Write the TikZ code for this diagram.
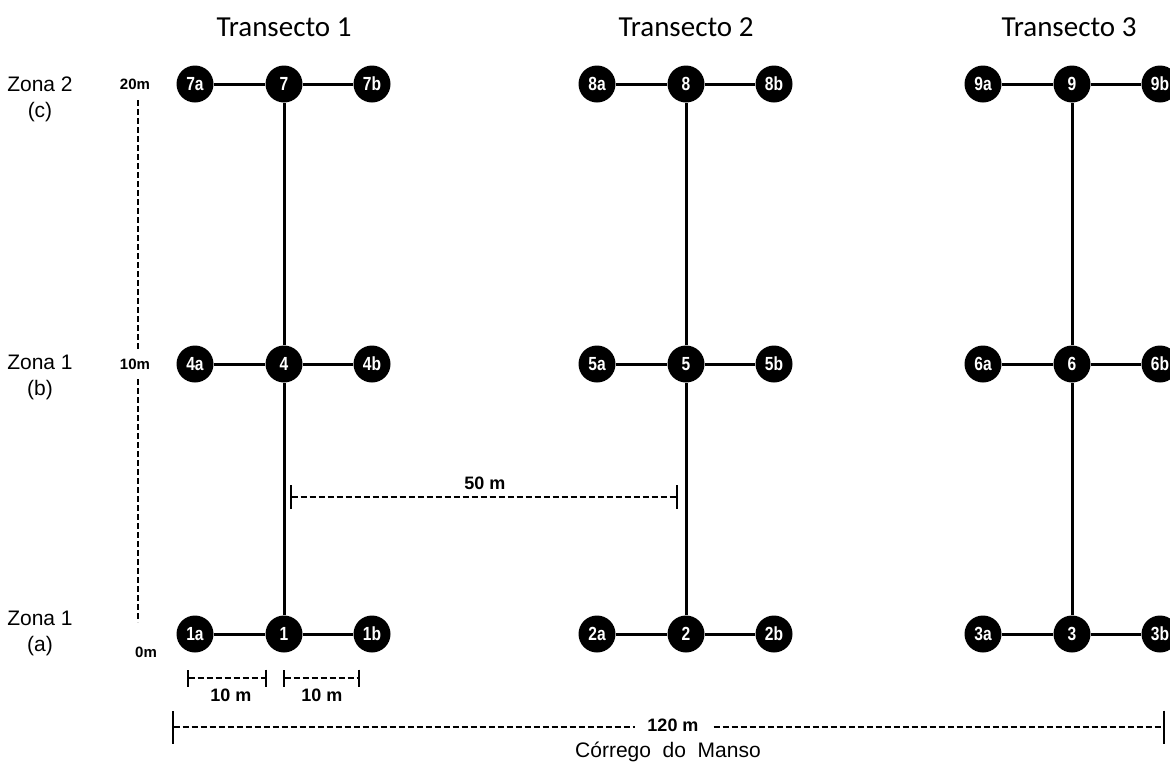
\documentclass[tikz,border=0pt]{standalone}
\usepackage{fontspec}
\usepackage{graphicx}
\setmainfont{Liberation Sans}
\newfontfamily\titlefont{Carlito}
\usetikzlibrary{arrows.meta,positioning}
\newcommand{\narrow}[1]{\scalebox{0.82}[1]{#1}}
\tikzset{
  every node/.style={text=black},
  spot/.style={circle,fill=black,minimum size=37pt,inner sep=0,text=white,font=\bfseries\fontsize{19}{19}\selectfont},
  link/.style={line width=3pt},
  dim/.style={dashed,dash pattern=on 6pt off 3pt,line width=1.6pt},
  tick/.style={{Bar[width=#1,line width=2pt]}-{Bar[width=#1,line width=2pt]}},
  dimlabel/.style={font=\bfseries\fontsize{18}{20}\selectfont,inner sep=1pt},
  zone/.style={font=\fontsize{21}{26}\selectfont,align=center},
  height/.style={font=\bfseries\fontsize{15}{16}\selectfont,fill=white,inner sep=2pt}
}
\begin{document}
\begin{tikzpicture}[x=1pt,y=-1pt]
  \path[use as bounding box] (0,0) rectangle (1170,766);

  % transect titles
  \foreach \t/\cx in {1/284,2/686,3/1069}
    \node[font=\titlefont\fontsize{29}{32}\selectfont] (title\t) at (\cx,27) {Transecto \t};

  % sampling points
  \foreach \t/\cx in {1/284,2/686,3/1072} {
    \foreach \r/\cy in {0/634,1/364,2/84} {
      \pgfmathtruncatemacro\k{\t+3*\r}
      \node[spot] (s\k) at (\cx,\cy) {\narrow{\k}};
      \node[spot] (s\k a) at (\cx-89,\cy) {\narrow{\k a}};
      \node[spot] (s\k b) at (\cx+88,\cy) {\narrow{\k b}};
      \draw[link] (s\k a) -- (s\k) -- (s\k b);
    }
    \pgfmathtruncatemacro\lo{\t}
    \pgfmathtruncatemacro\mid{\t+3}
    \pgfmathtruncatemacro\hi{\t+6}
    \draw[link] (s\lo) -- (s\mid) -- (s\hi);
  }

  % zones
  \node[zone] (zc) at (40,99) {Zona 2\\(c)};
  \node[zone] (zb) at (40,377) {Zona 1\\(b)};
  \node[zone] (za) at (40,633) {Zona 1\\(a)};

  % height scale
  \coordinate (htop) at (138,100);
  \coordinate (hbot) at (138,622);
  \draw[dim] (htop) -- (hbot);
  \node[height] (h20) at (135,84) {20m};
  \node[height,inner ysep=9pt] (h10) at (135,364) {10m};
  \node[height] (h0) at (146,652) {0m};

  % distances
  \coordinate (a1) at (187,678);
  \coordinate (a2) at (267,678);
  \coordinate (b1) at (283,678);
  \coordinate (b2) at (360,678);
  \draw[dim,tick=17pt] (a1) -- (a2);
  \draw[dim,tick=17pt] (b1) -- (b2);
  \node[dimlabel] (d10a) at (231,695) {10 m};
  \node[dimlabel] (d10b) at (322,695) {10 m};

  \coordinate (c1) at (290,497);
  \coordinate (c2) at (678,497);
  \draw[dim,tick=24pt] (c1) -- (c2);
  \node[dimlabel] (d50) at (485,483) {50 m};

  \coordinate (e1) at (172,727);
  \coordinate (e2) at (1165,727);
  \draw[dim,tick=33pt] (e1) -- (e2);
  \node[dimlabel,fill=white,inner xsep=12pt] (d120) at (673,725) {120 m};
  \node[font=\fontsize{21}{24}\selectfont] (river) at (668,752) {Córrego\ \ do\ \ Manso};
\end{tikzpicture}
\end{document}
